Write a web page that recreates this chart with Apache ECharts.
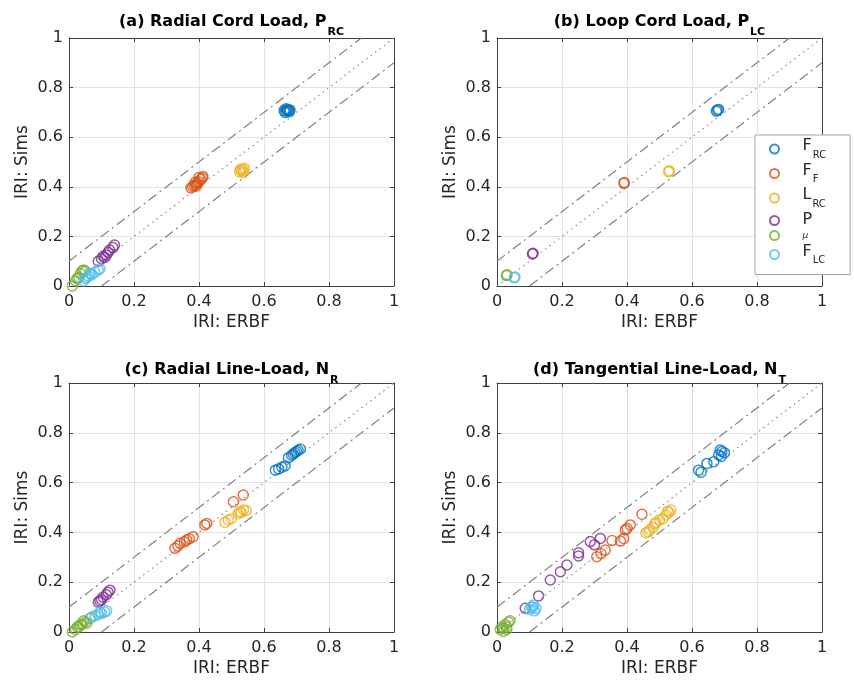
<!DOCTYPE html>
<html>
<head>
<meta charset="utf-8">
<script src="https://cdn.jsdelivr.net/npm/echarts@6/dist/echarts.min.js"></script>
<style>
  html, body { margin: 0; padding: 0; background: #fff; }
  #chart { width: 854px; height: 681px; }
</style>
</head>
<body>
<div id="chart"></div>
<script>
// ---------- data ----------
const GROUPS = ['FRC', 'FF', 'LRC', 'P', 'mu', 'FLC'];
const COLORS = ['#0072BD', '#D95319', '#EDB120', '#7E2F8E', '#77AC30', '#4DBEEE'];
const LEGEND_LABELS = ['{m|F}{s|RC}', '{m|F}{s|F}', '{m|L}{s|RC}', '{m|P}', '{mu|μ}', '{m|F}{s|LC}'];

const PANEL_TITLES = ['(a) Radial Cord Load, P', '(b) Loop Cord Load, P', '(c) Radial Line-Load, N', '(d) Tangential Line-Load, N'];
const PANEL_SUBS = ['RC', 'LC', 'R', 'T'];
const X_NAME = 'IRI: ERBF';
const Y_NAME = 'IRI: Sims';
const AXIS_MIN = 0, AXIS_MAX = 1, AXIS_STEP = 0.2;

// reference lines y = x, y = x + 0.1, y = x - 0.1
const DIAG = [[0, 0], [1, 1]];
const UPPER = [[0, 0.1], [0.9, 1]];
const LOWER = [[0.1, 0], [1, 0.9]];

// (a) Radial Cord Load
const a_FRC = [[0.665, 0.700], [0.670, 0.705], [0.672, 0.712], [0.675, 0.708], [0.668, 0.715], [0.678, 0.703], [0.680, 0.710], [0.662, 0.708]];
const a_FF = [[0.375, 0.395], [0.380, 0.400], [0.385, 0.405], [0.390, 0.410], [0.395, 0.415], [0.400, 0.420], [0.405, 0.430], [0.410, 0.435], [0.388, 0.418], [0.400, 0.438], [0.412, 0.442], [0.392, 0.402]];
const a_LRC = [[0.525, 0.460], [0.530, 0.465], [0.535, 0.470], [0.540, 0.475], [0.528, 0.472], [0.537, 0.458]];
const a_P = [[0.090, 0.100], [0.100, 0.110], [0.105, 0.120], [0.115, 0.125], [0.120, 0.135], [0.125, 0.145], [0.135, 0.155], [0.140, 0.165], [0.110, 0.115]];
const a_mu = [[0.010, 0.000], [0.020, 0.020], [0.030, 0.035], [0.035, 0.050], [0.040, 0.060], [0.045, 0.065], [0.050, 0.060], [0.025, 0.030]];
const a_FLC = [[0.045, 0.020], [0.050, 0.030], [0.060, 0.040], [0.070, 0.045], [0.080, 0.055], [0.090, 0.065], [0.095, 0.070], [0.055, 0.035], [0.065, 0.050]];

// (b) Loop Cord Load
const b_FRC = [[0.675, 0.705], [0.678, 0.710], [0.682, 0.712]];
const b_FF = [[0.392, 0.417], [0.390, 0.414]];
const b_LRC = [[0.528, 0.461], [0.530, 0.465]];
const b_P = [[0.111, 0.132], [0.109, 0.129]];
const b_mu = [[0.029, 0.042], [0.031, 0.045]];
const b_FLC = [[0.053, 0.033], [0.055, 0.036]];

// (c) Radial Line-Load
const c_FRC = [[0.635, 0.650], [0.645, 0.655], [0.655, 0.662], [0.665, 0.668], [0.675, 0.700], [0.685, 0.710], [0.690, 0.715], [0.700, 0.725], [0.705, 0.730], [0.712, 0.735], [0.695, 0.720]];
const c_FF = [[0.326, 0.336], [0.335, 0.345], [0.342, 0.356], [0.355, 0.362], [0.362, 0.369], [0.370, 0.375], [0.382, 0.383], [0.418, 0.430], [0.424, 0.436], [0.506, 0.523], [0.536, 0.550]];
const c_LRC = [[0.480, 0.440], [0.490, 0.450], [0.500, 0.455], [0.520, 0.475], [0.526, 0.483], [0.530, 0.480], [0.537, 0.490], [0.545, 0.488]];
const c_P = [[0.090, 0.120], [0.095, 0.125], [0.100, 0.130], [0.105, 0.140], [0.115, 0.150], [0.120, 0.160], [0.126, 0.168]];
const c_mu = [[0.010, 0.000], [0.020, 0.010], [0.025, 0.020], [0.030, 0.020], [0.035, 0.030], [0.040, 0.030], [0.045, 0.045], [0.050, 0.040], [0.055, 0.035], [0.065, 0.055]];
const c_FLC = [[0.070, 0.060], [0.080, 0.065], [0.090, 0.070], [0.095, 0.080], [0.100, 0.075], [0.110, 0.080], [0.116, 0.085]];

// (d) Tangential Line-Load
const d_FRC = [[0.620, 0.650], [0.628, 0.642], [0.646, 0.677], [0.667, 0.684], [0.682, 0.711], [0.687, 0.731], [0.692, 0.725], [0.700, 0.720], [0.690, 0.705]];
const d_FF = [[0.307, 0.302], [0.320, 0.315], [0.333, 0.329], [0.354, 0.367], [0.380, 0.365], [0.390, 0.376], [0.395, 0.410], [0.400, 0.416], [0.410, 0.430], [0.446, 0.473]];
const d_LRC = [[0.458, 0.398], [0.465, 0.402], [0.470, 0.410], [0.480, 0.420], [0.485, 0.435], [0.490, 0.440], [0.500, 0.450], [0.510, 0.455], [0.520, 0.470], [0.530, 0.480], [0.535, 0.490], [0.525, 0.485]];
const d_P = [[0.087, 0.095], [0.128, 0.145], [0.164, 0.209], [0.195, 0.242], [0.215, 0.269], [0.251, 0.305], [0.251, 0.318], [0.287, 0.363], [0.318, 0.376], [0.300, 0.350]];
const d_mu = [[0.010, 0.010], [0.020, 0.015], [0.030, 0.020], [0.025, 0.030], [0.035, 0.040], [0.040, 0.045], [0.015, 0.020], [0.030, 0.010], [0.020, 0.002]];
const d_FLC = [[0.100, 0.090], [0.110, 0.100], [0.120, 0.095], [0.112, 0.108], [0.115, 0.085], [0.105, 0.100]];

const PANELS = [
  [a_FRC, a_FF, a_LRC, a_P, a_mu, a_FLC],
  [b_FRC, b_FF, b_LRC, b_P, b_mu, b_FLC],
  [c_FRC, c_FF, c_LRC, c_P, c_mu, c_FLC],
  [d_FRC, d_FF, d_LRC, d_P, d_mu, d_FLC]
];

// ---------- layout ----------
const FONT = 'DejaVu Sans';
const TXT = '#262626';
const GRIDS = [
  { left: 69, top: 38, width: 325, height: 248 },
  { left: 497, top: 38, width: 325, height: 248 },
  { left: 69, top: 383, width: 325, height: 249 },
  { left: 497, top: 383, width: 325, height: 249 }
];
const TITLE_TOPS = [9, 9, 357, 357];

const grid = GRIDS.map(g => Object.assign({ containLabel: false }, g));
const xAxis = [], yAxis = [], series = [], title = [];

GRIDS.forEach((g, i) => {
  const common = {
    type: 'value', min: AXIS_MIN, max: AXIS_MAX, interval: AXIS_STEP, gridIndex: i,
    axisLine: { show: true, onZero: false, lineStyle: { color: '#404040', width: 1 } },
    axisTick: { show: true, inside: true, length: 4, lineStyle: { color: '#404040' } }
  };
  xAxis.push(Object.assign({}, common, {
    position: 'bottom',
    name: X_NAME, nameLocation: 'middle', nameGap: 28,
    nameTextStyle: { fontFamily: FONT, fontSize: 17, color: TXT },
    axisLabel: { fontFamily: FONT, fontSize: 16, color: TXT, margin: 8 },
    splitLine: { show: true, lineStyle: { color: '#e3e3e3', width: 1 } }
  }));
  xAxis.push(Object.assign({}, common, {
    position: 'top', axisLabel: { show: false }, splitLine: { show: false }
  }));
  yAxis.push(Object.assign({}, common, {
    position: 'left',
    name: Y_NAME, nameLocation: 'middle', nameGap: 38,
    nameTextStyle: { fontFamily: FONT, fontSize: 17, color: TXT },
    axisLabel: { fontFamily: FONT, fontSize: 16, color: TXT, margin: 6 },
    splitLine: { show: true, lineStyle: { color: '#e3e3e3', width: 1 } }
  }));
  yAxis.push(Object.assign({}, common, {
    position: 'right', axisLabel: { show: false }, splitLine: { show: false }
  }));

  title.push({
    text: '{m|' + PANEL_TITLES[i] + '}{s|' + PANEL_SUBS[i] + '}',
    left: g.left + g.width / 2 - 5, top: TITLE_TOPS[i], textAlign: 'center',
    textStyle: {
      rich: {
        m: { fontFamily: FONT, fontWeight: 'bold', fontSize: 16, color: '#000', lineHeight: 20, verticalAlign: 'top' },
        s: { fontFamily: FONT, fontWeight: 'bold', fontSize: 11, color: '#000', verticalAlign: 'top', padding: [13, 0, 0, 1] }
      }
    }
  });

  const lineBase = { type: 'line', xAxisIndex: 2 * i, yAxisIndex: 2 * i, symbol: 'none', silent: true, z: 1 };
  series.push(Object.assign({}, lineBase, { data: UPPER, lineStyle: { color: '#808080', width: 1.2, type: [10, 4, 2, 4] } }));
  series.push(Object.assign({}, lineBase, { data: LOWER, lineStyle: { color: '#808080', width: 1.2, type: [10, 4, 2, 4] } }));
  series.push(Object.assign({}, lineBase, { data: DIAG, lineStyle: { color: '#8c8c8c', width: 1.2, type: [1.5, 4] } }));

  PANELS[i].forEach((pts, k) => {
    series.push({
      type: 'scatter', name: GROUPS[k], xAxisIndex: 2 * i, yAxisIndex: 2 * i,
      data: pts, symbol: 'circle', symbolSize: 10, z: 3,
      itemStyle: { color: 'rgba(255,255,255,0)', borderColor: COLORS[k], borderWidth: 1.5 },
      emphasis: { disabled: true }
    });
  });
});

const option = {
  animation: false,
  backgroundColor: '#fff',
  title: title,
  grid: grid,
  xAxis: xAxis,
  yAxis: yAxis,
  legend: {
    data: GROUPS.map(n => ({ name: n, icon: 'circle' })),
    orient: 'vertical',
    left: 755, top: 135,
    padding: [3, 24, 9, 14],
    itemGap: 2.5,
    itemWidth: 46, itemHeight: 9,
    backgroundColor: '#fff',
    borderColor: '#a6a6a6', borderWidth: 1,
    selectedMode: false,
    formatter: name => LEGEND_LABELS[GROUPS.indexOf(name)],
    textStyle: {
      rich: {
        m: { fontFamily: FONT, fontSize: 16, color: TXT, lineHeight: 18, verticalAlign: 'top' },
        s: { fontFamily: FONT, fontSize: 10, color: TXT, verticalAlign: 'top', padding: [12, 0, 0, 1] },
        mu: { fontFamily: FONT, fontSize: 9, fontStyle: 'italic', color: TXT, lineHeight: 18 }
      }
    }
  },
  series: series
};

const chart = echarts.init(document.getElementById('chart'), null, { renderer: 'canvas' });
chart.setOption(option);
</script>
</body>
</html>
